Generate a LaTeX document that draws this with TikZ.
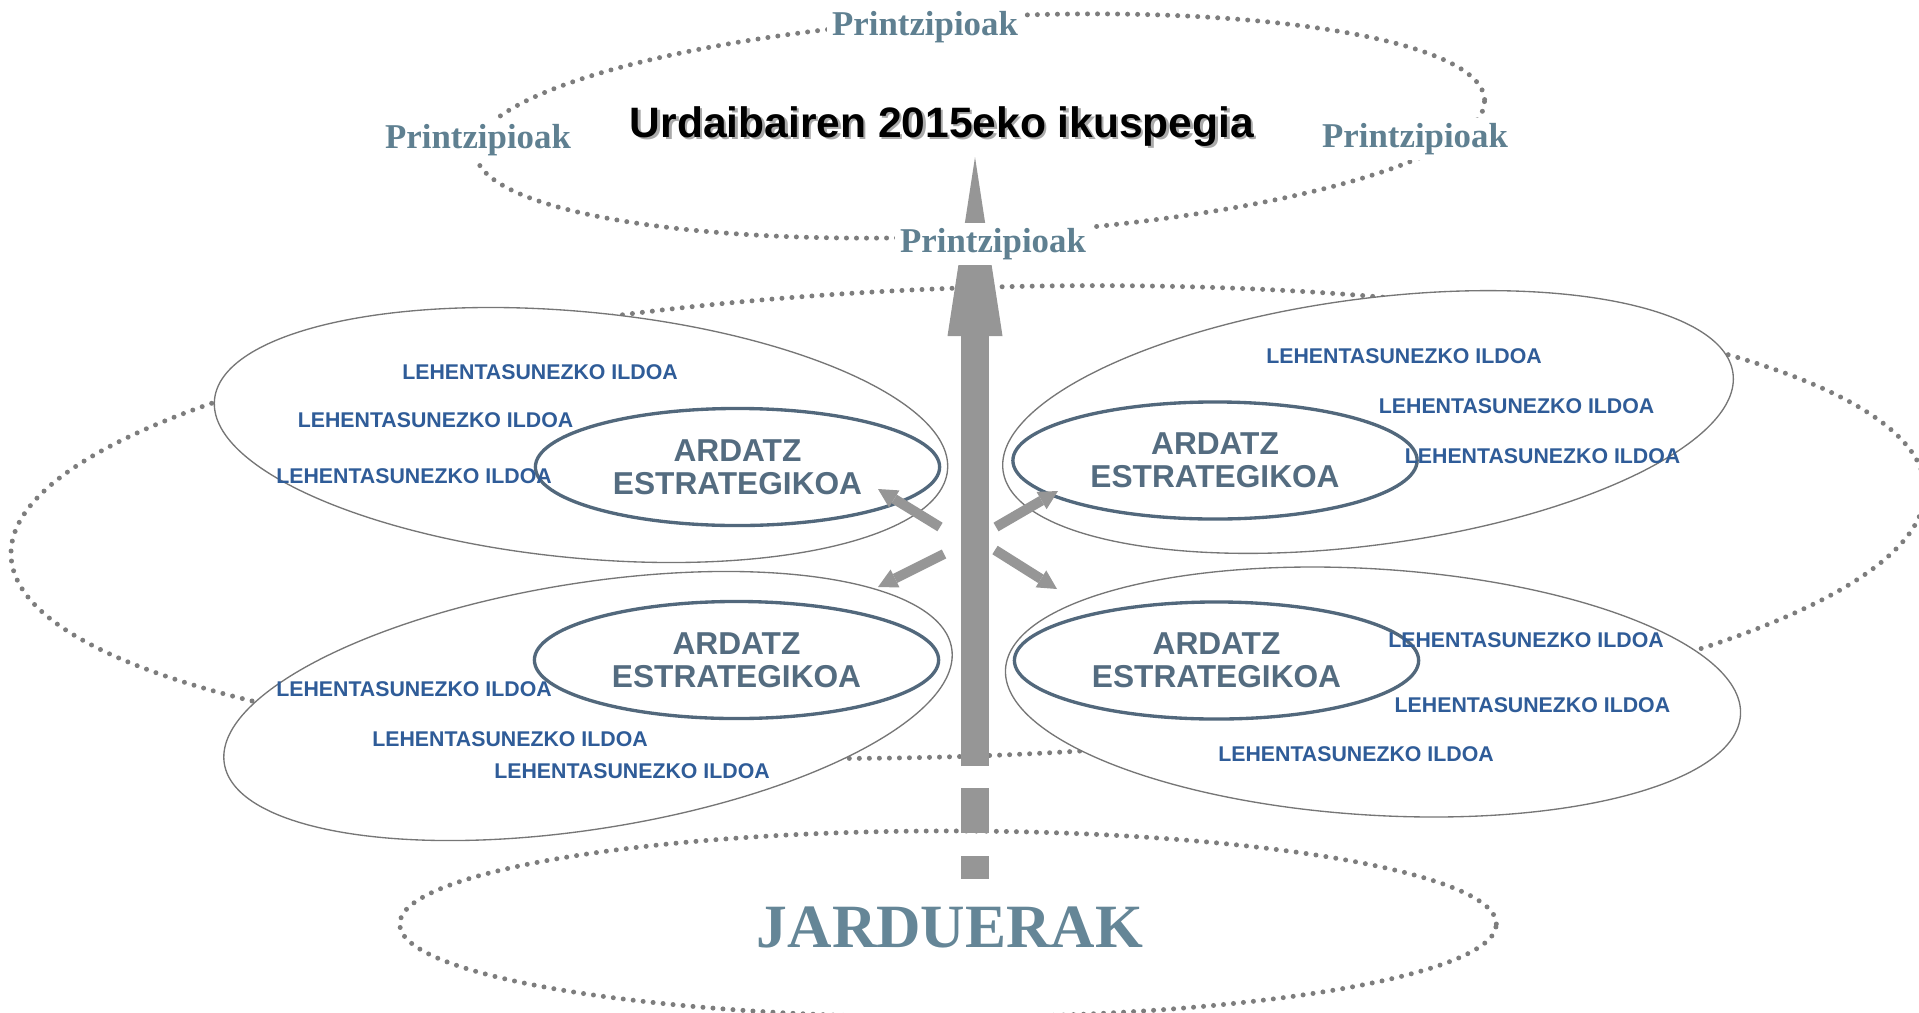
\documentclass[tikz,border=0pt]{standalone}
\usepackage{fontspec}
\setmainfont{Liberation Serif}
\newfontfamily\sansf{Liberation Sans}
\usetikzlibrary{arrows.meta,shapes.geometric}
\definecolor{ellgray}{RGB}{118,118,118}
\definecolor{dotgray}{RGB}{125,125,125}
\definecolor{innerblue}{RGB}{82,104,124}
\definecolor{ardcol}{RGB}{84,108,128}
\definecolor{ildcol}{RGB}{47,92,152}
\definecolor{princol}{RGB}{95,128,145}
\definecolor{jardcol}{RGB}{101,134,151}
\definecolor{arrowgray}{RGB}{150,150,150}
\definecolor{shadowgray}{RGB}{170,170,170}
\newcommand\shadowtxt[1]{\rlap{\hspace{0.7pt}\raisebox{-0.7pt}{\textcolor{shadowgray}{#1}}}#1}
\tikzset{
  dotell/.style={ellipse, draw=dotgray, line width=1.42pt, line cap=round,
    dash pattern=on 0pt off 2.85pt, inner sep=0pt},
  bigell/.style={ellipse, draw=ellgray, line width=0.38pt, fill=white,
    minimum width=7.36cm, minimum height=2.46cm, inner sep=0pt},
  innerell/.style={ellipse, draw=innerblue, line width=0.95pt,
    minimum width=4.04cm, minimum height=1.17cm, inner sep=0pt, align=center,
    text=ardcol, font=\sansf\bfseries\fontsize{9pt}{9.4pt}\selectfont},
  ildoa/.style={inner sep=0pt, text=ildcol,
    font=\sansf\bfseries\fontsize{6.06pt}{7pt}\selectfont},
  princ/.style={fill=white, inner sep=1.5pt, anchor=base, text=princol,
    font=\bfseries\fontsize{9.9pt}{11pt}\selectfont},
  mainarrow/.style={draw=arrowgray, line width=0.28cm,
    -{Triangle[width=0.55cm, length=1.79cm, line width=0pt]}},
  smallarrow/.style={draw=arrowgray, line width=0.1cm,
    -{Triangle[width=0.2cm, length=0.19cm, line width=0pt]}},
}
\begin{document}
\begin{tikzpicture}[x=0.01cm, y=-0.01cm]
\useasboundingbox (0,0) rectangle (1919,1012);
% dotted ellipses
\node[dotell, minimum width=19.14cm, minimum height=4.68cm, rotate=2] (middle) at (968,522) {};
\node[dotell, minimum width=10.10cm, minimum height=2.18cm, rotate=3] (vision) at (980,126) {};
\node[dotell, minimum width=10.96cm, minimum height=1.86cm] (actions) at (948,924) {};
% large ellipses
\node[bigell, rotate=-5.5] (ulbig) at (581,435) {};
\node[bigell, rotate=7.6] (urbig) at (1368,422) {};
\node[bigell, rotate=9] (llbig) at (588,706) {};
\node[bigell, rotate=-3.6] (lrbig) at (1373,692) {};
% inner ellipses
\node[innerell] (ulin) at (737.5,467) {ARDATZ\\ESTRATEGIKOA};
\node[innerell] (urin) at (1215,460.5) {ARDATZ\\ESTRATEGIKOA};
\node[innerell] (llin) at (736.5,660) {ARDATZ\\ESTRATEGIKOA};
\node[innerell] (lrin) at (1216.5,660.5) {ARDATZ\\ESTRATEGIKOA};
% priority lines
\node[ildoa] (ul1) at (540,372.5) {LEHENTASUNEZKO ILDOA};
\node[ildoa] (ul2) at (435.5,420) {LEHENTASUNEZKO ILDOA};
\node[ildoa] (ul3) at (414,476) {LEHENTASUNEZKO ILDOA};
\node[ildoa] (ur1) at (1404,356) {LEHENTASUNEZKO ILDOA};
\node[ildoa] (ur2) at (1516.6,406) {LEHENTASUNEZKO ILDOA};
\node[ildoa] (ur3) at (1542.6,456) {LEHENTASUNEZKO ILDOA};
\node[ildoa] (ll1) at (414,688.7) {LEHENTASUNEZKO ILDOA};
\node[ildoa] (ll2) at (510,739.5) {LEHENTASUNEZKO ILDOA};
\node[ildoa] (ll3) at (632,771.5) {LEHENTASUNEZKO ILDOA};
\node[ildoa] (lr1) at (1526,640) {LEHENTASUNEZKO ILDOA};
\node[ildoa] (lr2) at (1532.4,705) {LEHENTASUNEZKO ILDOA};
\node[ildoa] (lr3) at (1356,754.5) {LEHENTASUNEZKO ILDOA};
% main arrow
\coordinate (abase) at (975,766);
\coordinate (atip) at (975,157);
\draw[mainarrow] (abase) -- (atip);
\coordinate (d1a) at (975,788);
\coordinate (d1b) at (975,833);
\coordinate (d2a) at (975,856);
\coordinate (d2b) at (975,879);
\draw[draw=arrowgray, line width=0.28cm] (d1a) -- (d1b) (d2a) -- (d2b);
% small arrows
\coordinate (ult) at (940,527); \coordinate (ulp) at (878,489);
\coordinate (urt) at (996,527); \coordinate (urp) at (1058,491);
\coordinate (llt) at (944,554); \coordinate (llp) at (878,587);
\coordinate (lrt) at (995,550); \coordinate (lrp) at (1057,589);
\draw[smallarrow] (ult) -- (ulp);
\draw[smallarrow] (urt) -- (urp);
\draw[smallarrow] (llt) -- (llp);
\draw[smallarrow] (lrt) -- (lrp);
% principles
\node[princ] (ptop) at (925,35) {Printzipioak};
\node[princ] (pleft) at (478,148) {Printzipioak};
\node[princ] (pright) at (1415,147) {Printzipioak};
\node[princ] (pbottom) at (993,252) {Printzipioak};
% title
\node[anchor=base, inner sep=0pt, font=\sansf\bfseries\fontsize{12.1pt}{14pt}\selectfont] (title) at (942,137) {\shadowtxt{Urdaibairen 2015eko ikuspegia}};
% actions
\node[anchor=base, inner sep=0pt, text=jardcol, font=\bfseries\fontsize{17.5pt}{20pt}\selectfont] (jard) at (950,947) {JARDUERAK};
\end{tikzpicture}
\end{document}
